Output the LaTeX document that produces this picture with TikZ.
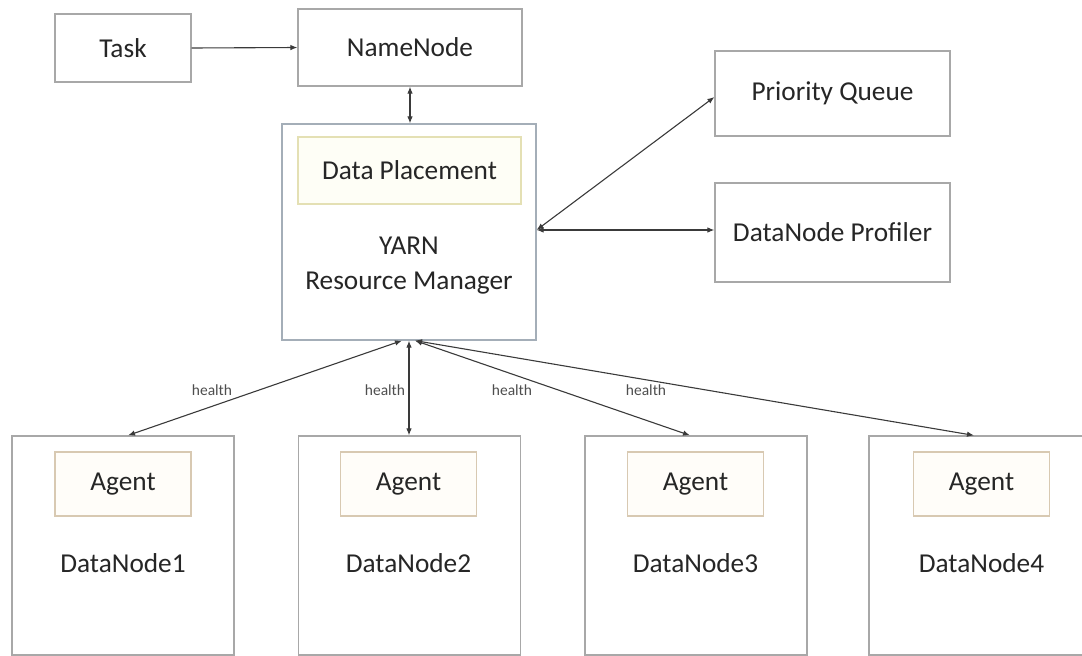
\documentclass[tikz,border=0pt]{standalone}
\usepackage{fontspec}
\setmainfont{Carlito}
\usetikzlibrary{arrows.meta}

\definecolor{boxgray}{HTML}{A8A8A8}
\definecolor{yarnline}{HTML}{A4AEB8}
\definecolor{placeline}{HTML}{E4E0B4}
\definecolor{placefill}{HTML}{FEFEF6}
\definecolor{agentline}{HTML}{D8C9B2}
\definecolor{agentfill}{HTML}{FFFDF9}
\definecolor{ink}{HTML}{262626}
\definecolor{wire}{HTML}{3A3A3A}

\tikzset{
  txt/.style={font=\fontsize{27.3}{35}\selectfont, text=ink, inner sep=0pt},
  plainbox/.style={draw=boxgray, line width=1.2pt, fill=white, txt},
  yarnbox/.style={draw=yarnline, line width=1.2pt, fill=white},
  placebox/.style={draw=placeline, line width=1.2pt, fill=placefill, txt},
  agentbox/.style={draw=agentline, line width=1.2pt, fill=agentfill, txt,
    minimum width=136pt, minimum height=64pt},
  dnbox/.style={draw=boxgray, line width=1.2pt, fill=white,
    minimum width=222pt, minimum height=219pt},
  hlabel/.style={font=\fontsize{15.5}{18}\selectfont, text=wire!90, inner sep=0pt},
  link/.style={draw=wire, line width=1.1pt, -{Latex[length=7pt,width=5.5pt]}},
  dlink/.style={draw=wire, line width=1.1pt, {Latex[length=7pt,width=5.5pt]}-{Latex[length=7pt,width=5.5pt]}},
}

\begin{document}
\begin{tikzpicture}[x=1pt, y=-1pt]
\useasboundingbox (0,0) rectangle (1082,656);

% top row
\node[plainbox, minimum width=136pt, minimum height=68pt] (task) at (123,48) {Task};
\node[plainbox, minimum width=224pt, minimum height=77pt] (namenode) at (410,47.5) {NameNode};

% resource manager with its placement module
\node[yarnbox, minimum width=254pt, minimum height=216pt] (yarn) at (409,232) {};
\node[placebox, minimum width=223pt, minimum height=67pt] (placement) at (409.5,170.5) {Data Placement};
\node[txt, align=center] (yarntext) at (409,265.5) {YARN\\Resource Manager};

% right-hand services
\node[plainbox, minimum width=235pt, minimum height=85pt] (pq) at (832.5,93.5) {Priority Queue};
\node[plainbox, minimum width=235pt, minimum height=99pt] (prof) at (832.5,232.5) {DataNode Profiler};

% data nodes
\foreach \i/\cx/\ax in {1/123/123, 2/409.5/408.5, 3/696/695.5, 4/980/981.5} {
  \node[dnbox] (dn\i) at (\cx,545.5) {};
  \node[agentbox] (agent\i) at (\ax,484) {Agent};
  \node[txt] (dntext\i) at (\ax,563) {DataNode\i};
}

% connectors
\draw[link] (task.east) -- (namenode.west);
\draw[dlink] (namenode.south) -- (yarn.north -| namenode.south);

\coordinate (ye) at ([yshift=2pt]yarn.east);
\coordinate (pqin) at ([yshift=-3.5pt]pq.west);
\draw[dlink] (ye) -- (pqin);
\draw[dlink] (ye) -- (ye -| prof.west);

\coordinate (ys1) at ([xshift=-7pt]yarn.south);
\coordinate (ys2) at (yarn.south);
\coordinate (ys3) at ([xshift=6pt]yarn.south);
\coordinate (dt1) at ([xshift=5pt]dn1.north);
\coordinate (dt3) at ([xshift=-6pt]dn3.north);
\coordinate (dt4) at ([xshift=-6pt]dn4.north);

\draw[dlink] (ys1) -- (dt1);
\draw[dlink] (ys2) -- (ys2 |- dn2.north);
\draw[dlink] (ys3) -- (dt3);
\draw[dlink] (ys3) -- (dt4);

% link labels
\node[hlabel] (h1) at (212,390) {health};
\node[hlabel] (h2) at (385,390) {health};
\node[hlabel] (h3) at (512,390) {health};
\node[hlabel] (h4) at (646,390) {health};
\end{tikzpicture}
\end{document}
